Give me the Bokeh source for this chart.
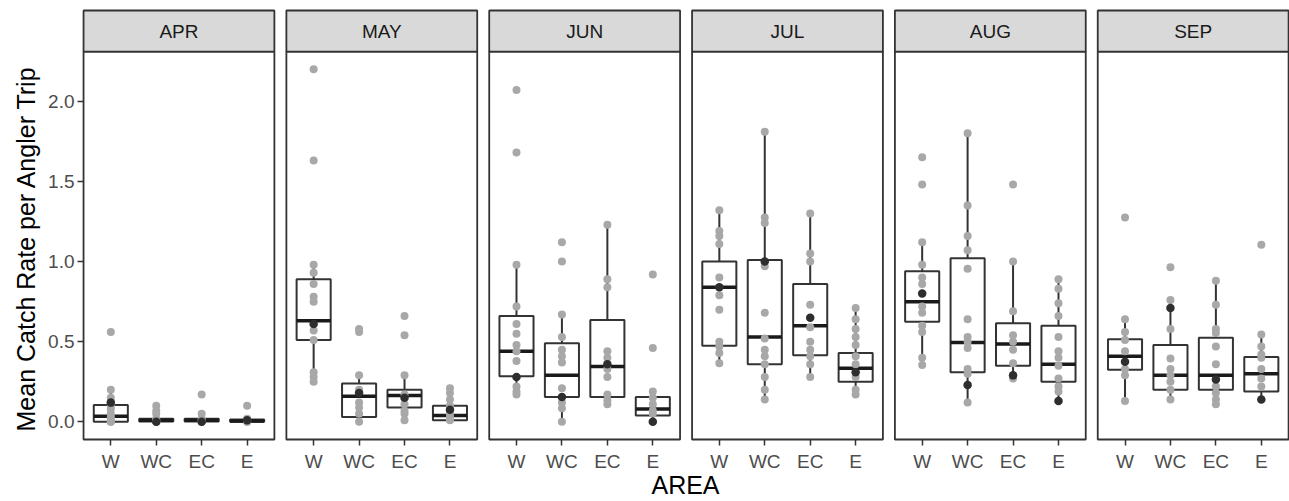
from bokeh.plotting import figure
from bokeh.models import ColumnDataSource, Range1d, FixedTicker, Title
from bokeh.core.properties import value
from bokeh.embed import file_html
from bokeh.resources import INLINE

# ---- data -------------------------------------------------------------
months = ["APR", "MAY", "JUN", "JUL", "AUG", "SEP"]
areas = ["W", "WC", "EC", "E"]

# yearly mean catch rates, one list per area (W, WC, EC, E)
apr_rates = [[0.56, 0.20, 0.15, 0.10, 0.08, 0.05, 0.03, 0.02, 0.0, 0.0],
             [0.10, 0.07, 0.05, 0.02, 0.01, 0.0, 0.0],
             [0.17, 0.05, 0.02, 0.01, 0.0, 0.0],
             [0.10, 0.02, 0.01, 0.0, 0.0]]
may_rates = [[2.20, 1.63, 0.98, 0.93, 0.86, 0.78, 0.75, 0.57, 0.51, 0.31, 0.28, 0.25],
             [0.58, 0.56, 0.29, 0.20, 0.12, 0.09, 0.05, 0.0],
             [0.66, 0.54, 0.29, 0.17, 0.11, 0.07, 0.05, 0.01],
             [0.21, 0.18, 0.14, 0.10, 0.05, 0.03, 0.01]]
jun_rates = [[2.07, 1.68, 0.98, 0.72, 0.61, 0.55, 0.48, 0.44, 0.38, 0.22, 0.19, 0.17],
             [1.12, 1.00, 0.67, 0.53, 0.45, 0.41, 0.37, 0.21, 0.12, 0.085, 0.0],
             [1.23, 0.89, 0.84, 0.44, 0.40, 0.33, 0.28, 0.17, 0.135, 0.11],
             [0.92, 0.46, 0.19, 0.15, 0.11, 0.07, 0.05]]
jul_rates = [[1.32, 1.19, 1.16, 1.11, 0.90, 0.79, 0.70, 0.50, 0.47, 0.43, 0.365],
             [1.81, 1.275, 1.24, 0.97, 0.68, 0.52, 0.45, 0.41, 0.36, 0.28, 0.20, 0.14],
             [1.30, 1.05, 1.00, 0.73, 0.59, 0.50, 0.45, 0.41, 0.36, 0.28],
             [0.71, 0.64, 0.58, 0.53, 0.48, 0.41, 0.36, 0.28, 0.20, 0.17]]
aug_rates = [[1.65, 1.48, 1.12, 0.98, 0.90, 0.86, 0.72, 0.68, 0.60, 0.56, 0.40, 0.355],
             [1.80, 1.35, 1.16, 1.07, 0.955, 0.64, 0.53, 0.50, 0.46, 0.33, 0.30, 0.12],
             [1.48, 1.00, 0.69, 0.54, 0.50, 0.45, 0.365, 0.27],
             [0.89, 0.83, 0.74, 0.66, 0.53, 0.44, 0.40, 0.35, 0.27, 0.22, 0.19]]
sep_rates = [[1.275, 0.64, 0.56, 0.51, 0.44, 0.33, 0.29, 0.13],
             [0.965, 0.76, 0.58, 0.395, 0.33, 0.29, 0.25, 0.20, 0.14],
             [0.88, 0.73, 0.58, 0.555, 0.47, 0.36, 0.22, 0.18, 0.14, 0.11],
             [1.105, 0.545, 0.47, 0.42, 0.40, 0.33, 0.27, 0.22]]
monthly_rates = [apr_rates, may_rates, jun_rates, jul_rates, aug_rates, sep_rates]

# most recent year, month by month (W, WC, EC, E)
current_year = [0.12, 0.0, 0.0, 0.01,
                0.61, 0.18, 0.15, 0.075,
                0.28, 0.155, 0.36, 0.0,
                0.84, 1.00, 0.65, 0.31,
                0.80, 0.23, 0.29, 0.13,
                0.375, 0.71, 0.265, 0.14]

# box-plot summaries (month-major, area-minor)
box_q1 = [0.0, 0.003, 0.003, 0.0,
          0.51, 0.03, 0.09, 0.01,
          0.285, 0.155, 0.155, 0.04,
          0.475, 0.36, 0.415, 0.25,
          0.625, 0.31, 0.35, 0.25,
          0.325, 0.20, 0.20, 0.19]
box_median = [0.035, 0.01, 0.01, 0.005,
              0.63, 0.16, 0.165, 0.04,
              0.44, 0.29, 0.345, 0.08,
              0.84, 0.53, 0.60, 0.335,
              0.75, 0.495, 0.485, 0.36,
              0.41, 0.29, 0.29, 0.30]
box_q3 = [0.105, 0.02, 0.02, 0.015,
          0.89, 0.24, 0.20, 0.10,
          0.66, 0.49, 0.635, 0.155,
          1.00, 1.01, 0.86, 0.43,
          0.94, 1.02, 0.615, 0.60,
          0.515, 0.48, 0.525, 0.405]
whisker_low = [0.0, 0.0, 0.0, 0.0,
               0.25, 0.0, 0.01, 0.0,
               0.17, 0.0, 0.11, 0.0,
               0.365, 0.14, 0.28, 0.17,
               0.355, 0.12, 0.27, 0.13,
               0.13, 0.14, 0.11, 0.14]
whisker_high = [0.20, 0.05, 0.05, 0.02,
                0.98, 0.29, 0.29, 0.21,
                0.98, 0.67, 1.23, 0.19,
                1.32, 1.81, 1.30, 0.71,
                1.12, 1.80, 1.00, 0.89,
                0.64, 0.76, 0.88, 0.545]

y_ticks = [0.0, 0.5, 1.0, 1.5, 2.0]
y_tick_labels = ["0.0", "0.5", "1.0", "1.5", "2.0"]

# ---- layout constants ---------------------------------------------------
STEP = 4.464          # distance between facet panels, in category units
PAD_LO, PAD_HI = 0.4, 4.6
Y_LO, Y_HI = -0.11, 2.31
STRIP_H = 0.256       # strip height in data units
FONT = "Liberation Sans"
INK = "#333333"

def xpos(m, a):
    return round(m * STEP + a + 1, 4)

# ---- sources --------------------------------------------------------------
px, py = [], []
for m, per_area in enumerate(monthly_rates):
    for a, vals in enumerate(per_area):
        px += [xpos(m, a)] * len(vals)
        py += vals
pts = ColumnDataSource(dict(x=px, y=py))

cx = [xpos(m, a) for m in range(len(months)) for a in range(len(areas))]
boxes = ColumnDataSource(dict(
    x=cx, left=[c - 0.375 for c in cx], right=[c + 0.375 for c in cx],
    q1=box_q1, med=box_median, q3=box_q3, lo=whisker_low, hi=whisker_high,
    cur=current_year))

panel_left = [m * STEP + PAD_LO for m in range(len(months))]
panel_right = [m * STEP + PAD_HI for m in range(len(months))]
panels = ColumnDataSource(dict(
    left=panel_left, right=panel_right,
    mid=[(l + r) / 2 for l, r in zip(panel_left, panel_right)],
    month=months))

# ---- figure ---------------------------------------------------------------
xpad, ypad = 0.045, 0.0125
x_lo, x_hi = PAD_LO - xpad, (len(months) - 1) * STEP + PAD_HI + 0.02
y_lo, y_hi = Y_LO - ypad, Y_HI + STRIP_H + ypad
p = figure(width=1289, height=501,
           x_range=Range1d(x_lo, x_hi), y_range=Range1d(y_lo, y_hi),
           output_backend="svg", toolbar_location=None,
           min_border_left=81, min_border_right=0,
           min_border_top=8, min_border_bottom=60)
p.outline_line_color = None
p.xgrid.visible = False
p.ygrid.visible = False
p.background_fill_color = "white"
p.border_fill_color = "white"

# whiskers, boxes, medians
p.segment(x0="x", x1="x", y0="q3", y1="hi", source=boxes, line_color=INK, line_width=2)
p.segment(x0="x", x1="x", y0="q1", y1="lo", source=boxes, line_color=INK, line_width=2)
p.quad(left="left", right="right", bottom="q1", top="q3", source=boxes,
       fill_color="white", line_color=INK, line_width=2)
p.segment(x0="left", x1="right", y0="med", y1="med", source=boxes,
          line_color="#1a1a1a", line_width=3.5)

# yearly points, then the current year on top
p.scatter("x", "y", source=pts, size=8, fill_color="#a8a8a8", line_color=None)
p.scatter("x", "cur", source=boxes, size=8.5, fill_color="#2e2e2e", line_color=None)

# panel borders and facet strips
p.quad(left="left", right="right", bottom=Y_LO, top=Y_HI, source=panels,
       fill_color=None, line_color=INK, line_width=1.8)
p.quad(left="left", right="right", bottom=Y_HI, top=Y_HI + STRIP_H, source=panels,
       fill_color="#d9d9d9", line_color=INK, line_width=1.8)
p.text(x="mid", y=Y_HI + STRIP_H / 2, text="month", source=panels,
       text_font=value(FONT), text_font_size="19px", text_color="#1a1a1a",
       text_align="center", text_baseline="middle")

# axes
p.xaxis.ticker = FixedTicker(ticks=cx)
p.xaxis.major_label_overrides = {c: areas[i % len(areas)] for i, c in enumerate(cx)}
p.yaxis.ticker = FixedTicker(ticks=y_ticks)
p.yaxis.major_label_overrides = dict(zip(y_ticks, y_tick_labels))
p.xaxis.axis_label = "AREA"
for ax in (p.xaxis[0], p.yaxis[0]):
    ax.axis_line_color = None
    ax.major_tick_line_color = INK
    ax.major_tick_line_width = 1.5
    ax.major_tick_in = 2
    ax.major_tick_out = 4
    ax.minor_tick_line_color = None
    ax.major_label_text_font = FONT
    ax.major_label_text_font_size = "19px"
    ax.major_label_text_color = "#4d4d4d"
    ax.axis_label_text_font = FONT
    ax.axis_label_text_font_size = "25px"
    ax.axis_label_text_font_style = "normal"
    ax.axis_label_text_color = "black"
p.xaxis.major_label_standoff = 5
p.xaxis.axis_label_standoff = -4
p.yaxis.major_label_standoff = 3

# y-axis title, started just above the panel bottom so it sits centred on
# the panel area rather than on panel + strip
p.add_layout(Title(text="Mean Catch Rate per Angler Trip", align="left",
                   offset=10, standoff=12,
                   text_font=FONT, text_font_size="25px",
                   text_font_style="normal", text_color="black"), "left")

open("out.html", "w").write(file_html(p, INLINE))
